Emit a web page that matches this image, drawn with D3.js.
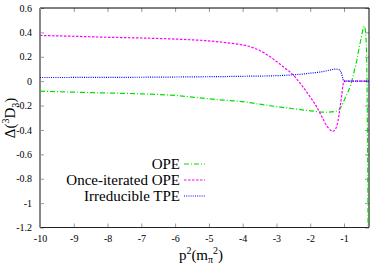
<!DOCTYPE html>
<html><head><meta charset="utf-8">
<script src="https://cdn.jsdelivr.net/npm/d3@7"></script>
<style>body{margin:0;background:#fff}svg{display:block}</style>
</head><body>
<svg id="c" width="382" height="267"></svg>
<script>
const xTicks = [-10,-9,-8,-7,-6,-5,-4,-3,-2,-1];
const yTicks = [0.6,0.4,0.2,0,-0.2,-0.4,-0.6,-0.8,-1,-1.2];
const seriesNames = ["OPE","Once-iterated OPE","Irreducible TPE"];
const opeX = [-10,-9,-8,-7,-6,-5,-4.4,-4,-3.5,-3,-2.5,-2,-1.5,-1.3,-1.15,-1,-0.9,-0.8,-0.7,-0.6,-0.55,-0.5,-0.45,-0.4,-0.37,-0.34,-0.32,-0.3,-0.285];
const opeY = [-0.082,-0.09,-0.097,-0.104,-0.117,-0.145,-0.159,-0.168,-0.189,-0.208,-0.226,-0.243,-0.255,-0.25,-0.235,-0.16,-0.1,-0.03,0.08,0.2,0.28,0.34,0.41,0.45,0.42,0.3,0.0,-0.6,-1.3];
const oitX = [-10,-9,-8,-7,-6,-5,-4.5,-4,-3.75,-3.5,-3.25,-3,-2.75,-2.5,-2.25,-2,-1.8,-1.65,-1.5,-1.4,-1.33,-1.25,-1.18,-1.12,-1.07,-1.03,-1.0,-0.26];
const oitY = [0.375,0.368,0.36,0.354,0.345,0.33,0.316,0.297,0.28,0.252,0.212,0.162,0.108,0.05,-0.035,-0.13,-0.215,-0.295,-0.37,-0.402,-0.412,-0.392,-0.33,-0.22,-0.12,-0.03,0,0];
const tpeX = [-10,-8,-6,-4,-3,-2.5,-2,-1.6,-1.4,-1.25,-1.15,-1.1,-1.06,-1.03,-1.0,-0.26];
const tpeY = [0.03,0.031,0.034,0.04,0.045,0.052,0.065,0.08,0.092,0.099,0.095,0.082,0.05,0.015,0,0];

const FONT = '"Times New Roman", Tinos, serif';
const svg = d3.select("#c");
const L=40, R=369, T=8, B=227.5;
const x = d3.scaleLinear().domain([-10,-0.26]).range([L,R]);
const y = d3.scaleLinear().domain([-1.2,0.6]).range([B,T]);

svg.append("defs").append("clipPath").attr("id","clip")
  .append("rect").attr("x",L).attr("y",T).attr("width",R-L).attr("height",B-T);

const gl = svg.append("g").attr("transform",`translate(${L},0)`)
  .call(d3.axisLeft(y).tickValues(yTicks).tickSize(-4).tickPadding(8).tickFormat(d=>String(d)));
const gr = svg.append("g").attr("transform",`translate(${R},0)`)
  .call(d3.axisRight(y).tickValues(yTicks).tickSize(-4).tickFormat(""));
const gb = svg.append("g").attr("transform",`translate(0,${B})`)
  .call(d3.axisBottom(x).tickValues(xTicks).tickSize(-4).tickPadding(7).tickFormat(d=>String(d)));
const gt = svg.append("g").attr("transform",`translate(0,${T})`)
  .call(d3.axisTop(x).tickValues(xTicks).tickSize(-4).tickFormat(""));
[gl,gr,gb,gt].forEach(g=>{
  g.attr("font-family",null).attr("font-size",null);
  g.selectAll(".domain").remove();
  g.selectAll(".tick line").attr("stroke","#999").attr("stroke-width",1);
  g.selectAll("text").style("font-size","10px").attr("fill","#000");
});
svg.append("line").attr("x1",L).attr("x2",R).attr("y1",T).attr("y2",T).attr("stroke","#000");
svg.append("line").attr("x1",R).attr("x2",R).attr("y1",T).attr("y2",B).attr("stroke","#000");
svg.append("line").attr("x1",L).attr("x2",R).attr("y1",B).attr("y2",B).attr("stroke","#222").attr("stroke-width",1.2);
svg.append("line").attr("x1",L).attr("x2",L).attr("y1",T).attr("y2",B).attr("stroke","#888").attr("stroke-width",2);

const series = [
  {name:seriesNames[0], xs:opeX, ys:opeY, color:"#00e000", dash:"5,2,1,2"},
  {name:seriesNames[1], xs:oitX, ys:oitY, color:"#ff00ff", dash:"2.5,1.5"},
  {name:seriesNames[2], xs:tpeX, ys:tpeY, color:"#0000ff", dash:"1,1.2"}
];
const line = d3.line().x(d=>x(d[0])).y(d=>y(d[1])).curve(d3.curveMonotoneX);
const gp = svg.append("g").attr("clip-path","url(#clip)");
series.forEach(s=>{
  gp.append("path").attr("d",line(s.xs.map((v,i)=>[v,s.ys[i]])))
    .attr("fill","none").attr("stroke",s.color).attr("stroke-width",1.2)
    .attr("stroke-dasharray",s.dash);
});

series.forEach((s,i)=>{
  const yy = 164 + i*16;
  svg.append("text").attr("x",180).attr("y",yy+5).attr("text-anchor","end")
    .style("font-size","15px").text(s.name);
  svg.append("line").attr("x1",184).attr("x2",205).attr("y1",yy).attr("y2",yy)
    .attr("stroke",s.color).attr("stroke-width",1.2).attr("stroke-dasharray",s.dash);
});

const xt = svg.append("text").attr("x",201).attr("y",260).attr("text-anchor","middle")
  .style("font-size","15px");
xt.append("tspan").text("p");
xt.append("tspan").style("font-size","10px").attr("dy",-6).text("2");
xt.append("tspan").attr("dy",6).text("(m");
xt.append("tspan").style("font-size","10px").attr("dy",3).text("π");
xt.append("tspan").style("font-size","10px").attr("dy",-9).text("2");
xt.append("tspan").attr("dy",6).text(")");

const yt = svg.append("text").attr("transform","translate(15,118) rotate(-90)").attr("text-anchor","middle")
  .style("font-size","15px");
yt.append("tspan").text("Δ(");
yt.append("tspan").style("font-size","10px").attr("dy",-6).text("3");
yt.append("tspan").attr("dy",6).text("D");
yt.append("tspan").style("font-size","10px").attr("dy",4).text("3");
yt.append("tspan").attr("dy",-4).text(")");

svg.selectAll("text").style("font-family",FONT);
</script>
</body></html>
